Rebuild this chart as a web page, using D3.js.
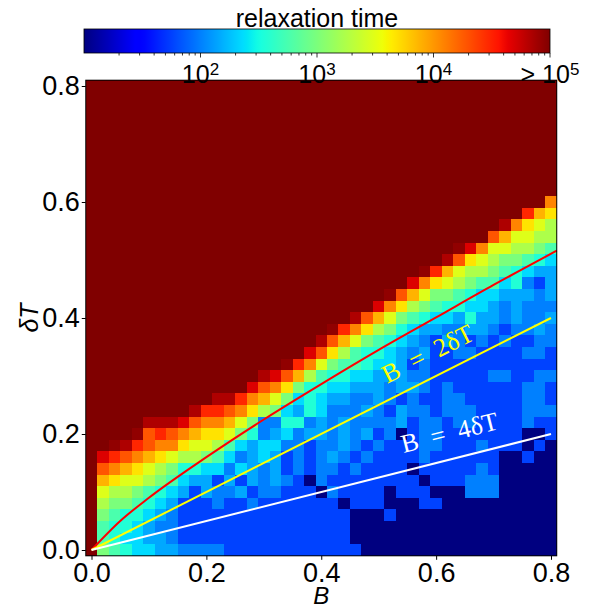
<!DOCTYPE html>
<html>
<head>
<meta charset="utf-8">
<script src="https://cdn.jsdelivr.net/npm/d3@7/dist/d3.min.js"></script>
<style>
  body { margin: 0; background: #fff; }
  text { font-family: "Liberation Sans", Arial, sans-serif; fill: #000; }
</style>
</head>
<body>
<svg id="chart"></svg>
<script>
// grid of the heat map (cell centres)
const bGrid = [0.00, 0.02, 0.04, 0.06, 0.08, 0.10, 0.12, 0.14, 0.16, 0.18, 0.20,
               0.22, 0.24, 0.26, 0.28, 0.30, 0.32, 0.34, 0.36, 0.38, 0.40,
               0.42, 0.44, 0.46, 0.48, 0.50, 0.52, 0.54, 0.56, 0.58, 0.60,
               0.62, 0.64, 0.66, 0.68, 0.70, 0.72, 0.74, 0.76, 0.78, 0.80];
// top row first
const tGrid = [0.80, 0.78, 0.76, 0.74, 0.72, 0.70, 0.68, 0.66, 0.64, 0.62, 0.60,
               0.58, 0.56, 0.54, 0.52, 0.50, 0.48, 0.46, 0.44, 0.42, 0.40,
               0.38, 0.36, 0.34, 0.32, 0.30, 0.28, 0.26, 0.24, 0.22, 0.20,
               0.18, 0.16, 0.14, 0.12, 0.10, 0.08, 0.06, 0.04, 0.02, 0.00];

// relaxation time of every cell, one char per B column (see levels), "|" only groups columns
const rows = [
  "MMMMMMMMMMMMMM|MMMMMMMMMMMMMM|MMMMMMMMMMMMM", // 0.80
  "MMMMMMMMMMMMMM|MMMMMMMMMMMMMM|MMMMMMMMMMMMM",
  "MMMMMMMMMMMMMM|MMMMMMMMMMMMMM|MMMMMMMMMMMMM",
  "MMMMMMMMMMMMMM|MMMMMMMMMMMMMM|MMMMMMMMMMMMM",
  "MMMMMMMMMMMMMM|MMMMMMMMMMMMMM|MMMMMMMMMMMMM",
  "MMMMMMMMMMMMMM|MMMMMMMMMMMMMM|MMMMMMMMMMMMM", // 0.70
  "MMMMMMMMMMMMMM|MMMMMMMMMMMMMM|MMMMMMMMMMMMM",
  "MMMMMMMMMMMMMM|MMMMMMMMMMMMMM|MMMMMMMMMMMMM",
  "MMMMMMMMMMMMMM|MMMMMMMMMMMMMM|MMMMMMMMMMMMM",
  "MMMMMMMMMMMMMM|MMMMMMMMMMMMMM|MMMMMMMMMMMMM",
  "MMMMMMMMMMMMMM|MMMMMMMMMMMMMM|MMMMMMMMMMMMc", // 0.60
  "MMMMMMMMMMMMMM|MMMMMMMMMMMMMM|MMMMMMMMMMeba",
  "MMMMMMMMMMMMMM|MMMMMMMMMMMMMM|MMMMMMMMgca98",
  "MMMMMMMMMMMMMM|MMMMMMMMMMMMMM|MMMMMMMdb9988",
  "MMMMMMMMMMMMMM|MMMMMMMMMMMMMM|MMMMhfc998876",
  "MMMMMMMMMMMMMM|MMMMMMMMMMMMMM|MMMgda9877654", // 0.50
  "MMMMMMMMMMMMMM|MMMMMMMMMMMMMM|Mheb988765433",
  "MMMMMMMMMMMMMM|MMMMMMMMMMMMMM|fca9876645213",
  "MMMMMMMMMMMMMM|MMMMMMMMMMMMhd|b977654433323",
  "MMMMMMMMMMMMMM|MMMMMMMMMMMfca|8765544323222",
  "MMMMMMMMMMMMMM|MMMMMMMMMgdb97|6544353323223", // 0.40
  "MMMMMMMMMMMMMM|MMMMMMMheca875|4332233212232",
  "MMMMMMMMMMMMMM|MMMMMMgdb97654|3213212121122",
  "MMMMMMMMMMMMMM|MMMMMfda865543|2311221111221",
  "MMMMMMMMMMMMMM|MMMhec97665443|1211111111111",
  "MMMMMMMMMMMMMM|Mgfdb865544333|2211111221122", // 0.30
  "MMMMMMMMMMMMMM|fdca7554433323|3212111111221",
  "MMMMMMMMMMMgge|cb974543322321|2112211111221",
  "MMMMMMMMMgeedc|a8743542223213|2212221111222",
  "MMMMMgggfdccb9|72255232322223|1221221111211",
  "MMMMhdedcbaa97|52342332323120|1221111111001", // 0.20
  "MMhgedcca99864|34422122321211|1221112111010",
  "Mfedcba9887642|34312123212111|1211111100100",
  "Mdcba987554424|32312122121111|0111112100000",
  "Mba99876433131|32321021111111|1011122200000",
  "M9887654313223|12211102111101|1100022200000", // 0.10
  "M8776543111211|21111111011100|0110000000000",
  "M7655432111111|11111111100010|0000000000000",
  "M6554322111111|11111111100000|0000000000000",
  "M6544332111111|11111111100000|0000000000000",
  "M7654433222211|11111111110000|0000000000000"  // 0.00
];
// code -> log10(relaxation time); M means > 1e5
const levels = {
  "0": 1.00, "1": 1.76, "2": 2.00, "3": 2.16, "4": 2.36, "5": 2.56, "6": 2.76,
  "7": 3.00, "8": 3.24, "9": 3.48, "a": 3.68, "b": 3.88, "c": 4.08, "d": 4.28,
  "e": 4.48, "f": 4.68, "g": 4.84, "h": 4.94, "M": 5.30
};

const cbTicks = [100, 1000, 10000, 100000];
const cbTickLabels = [["10", "2"], ["10", "3"], ["10", "4"], ["> 10", "5"]];
const cbMinor = [20, 30, 40, 50, 60, 70, 80, 90,
                 200, 300, 400, 500, 600, 700, 800, 900,
                 2000, 3000, 4000, 5000, 6000, 7000, 8000, 9000,
                 20000, 30000, 40000, 50000, 60000, 70000, 80000, 90000];
const axisTicks = [0, 0.2, 0.4, 0.6, 0.8];

// red curve
const redB = [0, 0.05, 0.10, 0.20, 0.30, 0.40, 0.50, 0.60, 0.70, 0.81];
const redT = [0, 0.050, 0.090, 0.160, 0.225, 0.286, 0.345, 0.401, 0.457, 0.516];

const guideLines = [
  { label: "B = 2δT", b: [0, 0.8], t: [0, 0.4], color: "#ffff00", at: [0.592, 0.325] },
  { label: "B = 4δT", b: [0, 0.8], t: [0, 0.2], color: "#ffffff", at: [0.627, 0.188] }
];

// matplotlib jet
const jetR = [[0, 0], [0.35, 0], [0.66, 1], [0.89, 1], [1, 0.5]];
const jetG = [[0, 0], [0.125, 0], [0.375, 1], [0.64, 1], [0.91, 0], [1, 0]];
const jetB = [[0, 0.5], [0.11, 1], [0.34, 1], [0.65, 0], [1, 0]];
function channel(pts, t) {
  for (let i = 1; i < pts.length; i++) {
    if (t <= pts[i][0]) {
      const [x0, y0] = pts[i - 1], [x1, y1] = pts[i];
      return y0 + (y1 - y0) * (t - x0) / (x1 - x0);
    }
  }
  return pts[pts.length - 1][1];
}
function jet(t) {
  t = Math.max(0, Math.min(1, t));
  return d3.rgb(255 * channel(jetR, t), 255 * channel(jetG, t), 255 * channel(jetB, t)).formatHex();
}

const width = 600, height = 608;
const svg = d3.select("#chart").attr("width", width).attr("height", height);

const x = d3.scaleLinear().domain([0, 0.8]).range([91.5, 551]);
const y = d3.scaleLinear().domain([0, 0.8]).range([550, 86]);
const half = 0.01;
// log10 tau from 1 (10) to 5 (1e5)
const colorT = d3.scaleLinear().domain([1, 5]).range([0, 1]).clamp(true);

const cells = [];
rows.forEach((row, i) => {
  row.replace(/\|/g, "").split("").forEach((code, j) => {
    cells.push({ b: bGrid[j], t: tGrid[i], v: levels[code] });
  });
});

svg.append("g")
  .attr("shape-rendering", "crispEdges")
  .selectAll("rect")
  .data(cells)
  .join("rect")
  .attr("x", d => x(d.b - half))
  .attr("y", d => y(d.t + half))
  .attr("width", d => x(d.b + half) - x(d.b - half) + 0.5)
  .attr("height", d => y(d.t - half) - y(d.t + half) + 0.5)
  .attr("fill", d => jet(colorT(d.v)));

// guide lines
svg.append("path")
  .datum(redB.map((b, i) => [b, redT[i]]))
  .attr("d", d3.line().x(d => x(d[0])).y(d => y(d[1])).curve(d3.curveMonotoneX))
  .attr("fill", "none")
  .attr("stroke", "#ff0000")
  .attr("stroke-width", 2);

guideLines.forEach(g => {
  svg.append("path")
    .datum(g.b.map((b, i) => [b, g.t[i]]))
    .attr("d", d3.line().x(d => x(d[0])).y(d => y(d[1])))
    .attr("stroke", g.color)
    .attr("stroke-width", 2);
  const ang = Math.atan2(y(g.t[1]) - y(g.t[0]), x(g.b[1]) - x(g.b[0])) * 180 / Math.PI;
  svg.append("text")
    .attr("transform", `translate(${x(g.at[0])},${y(g.at[1])}) rotate(${ang})`)
    .attr("text-anchor", "middle")
    .style("font-family", "'Liberation Serif', 'DejaVu Serif', serif")
    .style("font-size", "26px")
    .style("fill", g.color)
    .style("white-space", "pre")
    .text(g.label.replace(" = ", "  =  "));
});

// frame
svg.append("rect")
  .attr("x", x(-half)).attr("y", y(0.8 + half))
  .attr("width", x(0.8 + half) - x(-half))
  .attr("height", y(-half) - y(0.8 + half))
  .attr("fill", "none")
  .attr("stroke", "#000")
  .attr("stroke-width", 1);

const xAxis = svg.append("g")
  .attr("transform", `translate(0,${y(-half)})`)
  .call(d3.axisBottom(x).tickValues(axisTicks).tickFormat(d3.format(".1f")).tickSize(4).tickPadding(3));
const yAxis = svg.append("g")
  .attr("transform", `translate(${x(-half)},0)`)
  .call(d3.axisLeft(y).tickValues(axisTicks).tickFormat(d3.format(".1f")).tickSize(4).tickPadding(2));
[xAxis, yAxis].forEach(a => {
  a.select(".domain").remove();
  a.selectAll("text").style("font-size", "27px").style("font-family", "'Liberation Sans', Arial, sans-serif");
  a.selectAll("line").attr("stroke", "#000");
});

svg.append("text")
  .attr("x", x(0.4)).attr("y", 604)
  .attr("text-anchor", "middle")
  .style("font-size", "24px").style("font-style", "italic")
  .text("B");
svg.append("text")
  .attr("transform", `translate(38,${y(0.4)}) rotate(-90)`)
  .attr("text-anchor", "middle")
  .style("font-size", "25px").style("font-style", "italic")
  .text("δT");

// colour bar
const cb = d3.scaleLog().domain([10, 1e5]).range([84, 550]);
const cbTop = 29, cbH = 24;
const grad = svg.append("defs").append("linearGradient").attr("id", "jetGrad");
d3.range(0, 101).forEach(i => {
  grad.append("stop").attr("offset", i + "%").attr("stop-color", jet(i / 100));
});
svg.append("rect")
  .attr("x", cb(10)).attr("y", cbTop)
  .attr("width", cb(1e5) - cb(10)).attr("height", cbH)
  .attr("fill", "url(#jetGrad)")
  .attr("stroke", "#000").attr("stroke-width", 0.8);

svg.append("g").selectAll("line").data(cbMinor).join("line")
  .attr("x1", d => cb(d)).attr("x2", d => cb(d))
  .attr("y1", cbTop + cbH).attr("y2", cbTop + cbH + 2.5)
  .attr("stroke", "#000").attr("stroke-width", 0.8);
svg.append("g").selectAll("line").data(cbTicks).join("line")
  .attr("x1", d => cb(d)).attr("x2", d => cb(d))
  .attr("y1", cbTop + cbH).attr("y2", cbTop + cbH + 4.5)
  .attr("stroke", "#000").attr("stroke-width", 0.8);

const cbText = svg.append("g").selectAll("text").data(cbTicks).join("text")
  .attr("x", d => cb(d)).attr("y", 83)
  .attr("text-anchor", "middle")
  .style("font-size", "25px");
cbText.append("tspan").text((d, i) => cbTickLabels[i][0]);
cbText.append("tspan").attr("dy", "-0.45em").style("font-size", "17px").text((d, i) => cbTickLabels[i][1]);

svg.append("text")
  .attr("x", (cb(10) + cb(1e5)) / 2).attr("y", 27)
  .attr("text-anchor", "middle")
  .style("font-size", "25px")
  .text("relaxation time");
</script>
</body>
</html>
